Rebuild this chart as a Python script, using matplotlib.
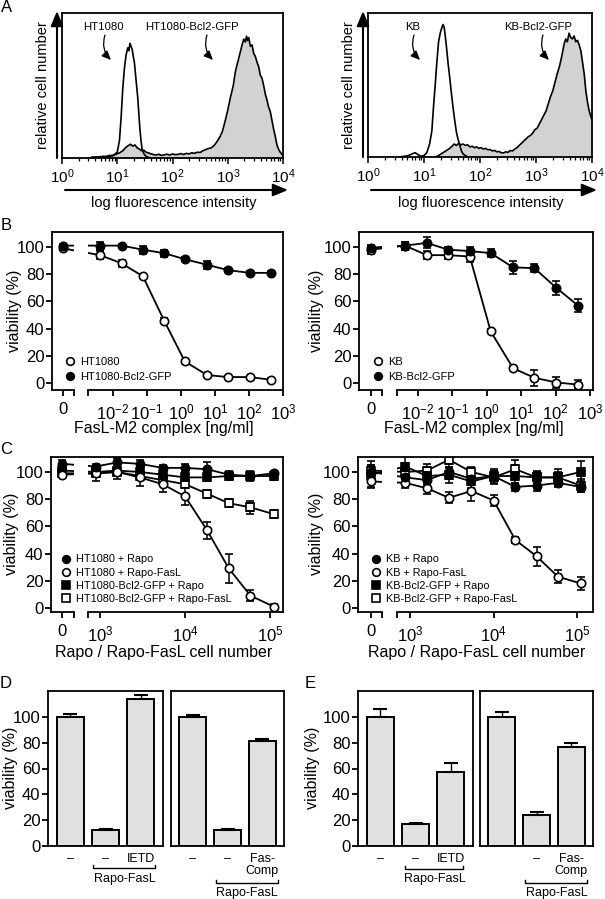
import numpy as np
import matplotlib
matplotlib.use("Agg")
import matplotlib.pyplot as plt
import matplotlib.transforms as mtransforms
from matplotlib.lines import Line2D
from matplotlib.path import Path
from matplotlib.patches import PathPatch, FancyArrowPatch
from matplotlib.ticker import NullLocator, LogLocator

# ---------------- data ----------------
# A: flow histograms, log10 fluorescence vs relative cell number (% of box height)
ht_log = [0.50, 0.56, 0.62, 0.68, 0.74, 0.80, 0.85, 0.90, 0.95, 1.00, 1.04, 1.07, 1.10,
          1.13, 1.16, 1.19, 1.21, 1.23, 1.25, 1.27, 1.29, 1.31, 1.33, 1.35, 1.37, 1.39,
          1.41, 1.43, 1.45, 1.48, 1.52, 1.56, 1.60]
ht_cnt = [0, 0.8, 0.3, 1.0, 0.5, 1.2, 0.8, 1.6, 2.5, 4, 12, 28, 48,
          62, 71, 76, 74, 79, 77, 75, 70, 66, 58, 50, 42, 31,
          20, 12, 6, 3, 1.2, 0.5, 0]
htbcl_log = [0.55, 0.62, 0.68, 0.74, 0.80, 0.86, 0.92, 0.98, 1.04, 1.10, 1.16, 1.20, 1.24,
             1.28, 1.32, 1.36, 1.40, 1.44, 1.48, 1.52, 1.56, 1.60, 1.65, 1.70, 1.75, 1.80,
             1.85, 1.90, 1.95, 2.00, 2.05, 2.10, 2.15, 2.20, 2.25, 2.30, 2.35, 2.40, 2.45,
             2.50, 2.55, 2.60, 2.65, 2.70, 2.75, 2.80, 2.85, 2.90, 2.95, 3.00, 3.05, 3.10,
             3.14, 3.18, 3.22, 3.26, 3.29, 3.32, 3.34, 3.36, 3.38, 3.41, 3.44, 3.47, 3.50,
             3.53, 3.56, 3.59, 3.62, 3.65, 3.68, 3.71, 3.74, 3.77, 3.80, 3.83, 3.86, 3.89,
             3.92, 3.95, 3.98, 4.00]
htbcl_cnt = [0, 0.8, 0.4, 1.2, 0.8, 1.8, 1.5, 2.6, 3.5, 5.0, 7.5, 8.5, 9.5,
             8.2, 9.0, 7.0, 6.2, 5.0, 5.4, 4.0, 3.6, 3.0, 2.4, 2.0, 2.6, 1.8,
             2.2, 2.6, 2.0, 2.8, 2.3, 2.5, 3.0, 2.4, 3.2, 2.8, 3.6, 3.2, 4.0,
             3.8, 5.0, 5.8, 6.5, 7, 8.5, 11, 14, 18, 25, 33, 42, 50,
             60, 66, 72, 78, 82, 80, 84, 81, 83, 77, 78, 72, 70,
             66, 63, 57, 55, 50, 44, 40, 35, 32, 26, 20, 15, 9,
             6, 4, 2.5, 2.0]
kb_log = [0.55, 0.65, 0.72, 0.78, 0.84, 0.90, 0.95, 1.00, 1.05, 1.10, 1.14, 1.17, 1.20,
          1.23, 1.26, 1.29, 1.32, 1.34, 1.36, 1.38, 1.40, 1.43, 1.46, 1.49, 1.52, 1.55,
          1.58, 1.61, 1.64, 1.67, 1.70, 1.74, 1.78]
kb_cnt = [0, 0.5, 1.0, 2.0, 3.0, 1.5, 0.5, 1.0, 3, 9, 18, 35, 50,
          66, 80, 86, 90, 92, 90, 84, 77, 65, 55, 44, 34, 25,
          17, 12, 8, 4, 2, 1, 0]
kbbcl_log = [1.20, 1.26, 1.32, 1.38, 1.42, 1.46, 1.50, 1.54, 1.58, 1.62, 1.66, 1.70, 1.74,
             1.78, 1.82, 1.86, 1.90, 1.94, 1.98, 2.02, 2.06, 2.10, 2.14, 2.18, 2.22, 2.26,
             2.30, 2.34, 2.38, 2.42, 2.46, 2.50, 2.54, 2.58, 2.62, 2.66, 2.70, 2.74, 2.78,
             2.82, 2.86, 2.90, 2.94, 2.98, 3.02, 3.06, 3.10, 3.14, 3.18, 3.22, 3.26, 3.30,
             3.34, 3.38, 3.42, 3.46, 3.50, 3.53, 3.56, 3.59, 3.62, 3.65, 3.68, 3.71, 3.74,
             3.77, 3.80, 3.83, 3.86, 3.89, 3.92, 3.95, 3.98, 4.00]
kbbcl_cnt = [0, 1, 2.5, 4, 5, 6, 7.5, 9, 8, 9.5, 8.5, 9, 8,
             8.5, 7, 7.5, 6.5, 7, 6, 6.5, 5.5, 6, 5, 5.2, 4.2, 4.6,
             3.6, 3.8, 3.0, 2.8, 3.6, 3.2, 4.5, 4.2, 5.5, 6.5, 8, 9.5, 11,
             12.5, 14, 15, 16.5, 19, 20, 23, 26, 29, 32, 37, 42, 46,
             52, 58, 63, 70, 78, 82, 80, 86, 83, 82, 84, 80, 81,
             78, 74, 66, 58, 46, 38, 32, 28, 26]
fluor_decades = [0, 1, 2, 3, 4]

# B: FasL-M2 complex titration (ng/ml), viability %
fasl_ng = [0, 0.0042, 0.018, 0.076, 0.32, 1.3, 5.8, 24, 105, 447]
ht_fasl = [99, 94, 88, 78.5, 46, 16, 6, 4.5, 4.5, 2.5]
ht_fasl_err = [1.5, 3, 2.5, 1.5, 1.5, 1, 1, 1, 1, 1]
htbcl_fasl = [101, 101, 101, 98, 95.5, 91, 87, 83, 81, 81]
htbcl_fasl_err = [1, 3, 1.5, 3, 2.5, 1.5, 3, 1.5, 1.5, 1.5]
kb_fasl = [98, 101, 94, 94, 93, 38, 11, 4, 0.5, -1]
kb_fasl_err = [3, 3, 3, 3, 4, 1.5, 1.5, 6, 4, 3]
kbbcl_fasl = [99.5, 101, 103, 98, 97, 95.5, 85, 84.5, 70, 57]
kbbcl_fasl_err = [2, 3, 4, 2, 3, 3, 5, 3, 5, 5]

# C: Rapo / Rapo-FasL cell number, viability %
rapo_cells = [0, 880, 1590, 2920, 5430, 10000, 18200, 32700, 58900, 110000]
ht_rapo = [106, 104, 107, 106, 103, 103, 102, 98, 97, 99]
ht_rapo_err = [3, 2, 3, 3, 2, 3, 5, 3, 2, 2]
ht_rapofasl = [98, 99, 100, 96, 91, 82, 57, 29, 9, 1]
ht_rapofasl_err = [2, 6, 5, 6, 6, 6, 6, 11, 4, 2]
htbcl_rapo = [101, 100, 101, 100, 98, 96, 96, 97, 97, 97]
htbcl_rapo_err = [3, 3, 3, 3, 3, 4, 2, 3, 4, 2]
htbcl_rapofasl = [99, 99, 100, 97, 94, 91, 84, 77, 74, 69]
htbcl_rapofasl_err = [2, 3, 3, 3, 3, 3, 2, 2, 5, 2]
kb_rapo = [100, 96, 94, 100, 95, 97, 89, 90, 92, 89]
kb_rapo_err = [5, 4, 4, 4, 4, 4, 3, 4, 3, 4]
kb_rapofasl = [93, 92, 88, 81, 86, 79, 50, 38, 23, 18]
kb_rapofasl_err = [4, 4, 4, 4, 7, 4, 2, 7, 5, 5]
kbbcl_rapo = [98, 104, 97, 98, 93, 97, 97, 96, 96, 100]
kbbcl_rapo_err = [10, 8, 6, 6, 5, 5, 5, 5, 6, 8]
kbbcl_rapofasl = [101, 100, 101, 109, 100, 96, 102, 96, 96, 90]
kbbcl_rapofasl_err = [4, 5, 5, 6, 4, 5, 7, 4, 4, 5]

# D / E: bar charts, viability %
d1_labels = ['–', '–', 'IETD']
d1_vals = [100, 12.5, 114]
d1_errs = [2, 1, 3]
d2_labels = ['–', '–', 'Fas-\nComp']
d2_vals = [99.5, 12.5, 81]
d2_errs = [2, 1, 1.5]
e1_labels = ['–', '–', 'IETD']
e1_vals = [100, 17, 57]
e1_errs = [6, 1, 7]
e2_labels = ['', '–', 'Fas-\nComp']
e2_vals = [100, 24, 77]
e2_errs = [4, 2.5, 3]

# ---------------- figure ----------------
plt.rcParams['font.family'] = ['Liberation Sans', 'DejaVu Sans']
plt.rcParams['mathtext.default'] = 'regular'
plt.rcParams['axes.linewidth'] = 1.3

W, H = 605, 899
fig = plt.figure(figsize=(W / 100, H / 100), dpi=100)


def box(x0, y0, x1, y1):
    return fig.add_axes([x0 / W, 1 - y1 / H, (x1 - x0) / W, (y1 - y0) / H])


def ftext(x, y, s, **kw):
    kw.setdefault('ha', 'center')
    kw.setdefault('va', 'center')
    fig.text(x / W, 1 - y / H, s, **kw)


def farrow(x0, y0, x1, y1, rad=0.0, lw=1.5, hl=0.6, hw=0.25, ms=15):
    fig.add_artist(FancyArrowPatch((x0 / W, 1 - y0 / H), (x1 / W, 1 - y1 / H),
                                   transform=fig.transFigure,
                                   connectionstyle='arc3,rad=%s' % rad,
                                   arrowstyle='-|>,head_length=%s,head_width=%s' % (hl, hw),
                                   mutation_scale=ms, lw=lw, color='k',
                                   shrinkA=0, shrinkB=0))


def hline(xs, ys, lw=1.0):
    fig.add_artist(Line2D([x / W for x in xs], [1 - y / H for y in ys],
                          transform=fig.transFigure, color='k', lw=lw))


# ---- A: histograms ----
def hist_panel(x0, y0, x1, y1, open_log, open_cnt, fill_log, fill_cnt):
    ax = box(x0, y0, x1, y1)
    fx = 10 ** np.array(fill_log)
    ox = 10 ** np.array(open_log)
    ax.fill_between(fx, 0, fill_cnt, color='#d2d2d2', lw=0)
    ax.plot(fx, fill_cnt, color='k', lw=1.2)
    ax.plot(ox, open_cnt, color='k', lw=1.2)
    ax.set_xscale('log')
    ax.set_xlim(1, 1e4)
    ax.set_ylim(0, 100)
    ax.set_yticks([])
    ax.set_xticks([10.0 ** d for d in fluor_decades],
                  [r'$\mathdefault{10^{%d}}$' % d for d in fluor_decades])
    ax.xaxis.set_minor_locator(LogLocator(subs=np.arange(2, 10), numticks=20))
    ax.tick_params(axis='x', which='major', direction='out', length=4, width=1.1,
                   labelsize=11, pad=3)
    ax.tick_params(axis='x', which='minor', direction='out', length=2.2, width=0.9,
                   labelbottom=False)
    # axis arrows
    farrow(x0 - 5, y1, x0 - 5, y0 - 2)
    farrow(x0 + 3, 190, x1 + 5, 190)
    ftext(x0 - 19, (y0 + y1) / 2, 'relative cell number', rotation=90, fontsize=10.5)
    ftext((x0 + x1) / 2 + 1, 203, 'log fluorescence intensity', fontsize=10.5)
    return ax


hist_panel(62, 13, 283, 158, ht_log, ht_cnt, htbcl_log, htbcl_cnt)
hist_panel(368, 13, 592, 157, kb_log, kb_cnt, kbbcl_log, kbbcl_cnt)

ftext(103, 27, 'HT1080', fontsize=8.2)
farrow(105, 35, 111, 60, rad=0.3, lw=0.9, hl=0.5, hw=0.22, ms=11)
ftext(192, 27, 'HT1080-Bcl2-GFP', fontsize=8.2)
farrow(207, 35, 213, 60, rad=0.3, lw=0.9, hl=0.5, hw=0.22, ms=11)
ftext(413, 27, 'KB', fontsize=8.2)
farrow(414, 35, 420, 60, rad=0.3, lw=0.9, hl=0.5, hw=0.22, ms=11)
ftext(538, 27, 'KB-Bcl2-GFP', fontsize=8.2)
farrow(543, 35, 549, 60, rad=0.3, lw=0.9, hl=0.5, hw=0.22, ms=11)


# ---- B / C: broken log axes ----
def broken_panel(x0, y0, x1, y1, loglim, zero_log, brk_log, dec_ticks, ylim):
    ax = box(x0, y0, x1, y1)
    ax.set_xscale('log')
    lo, hi = 10 ** loglim[0], 10 ** loglim[1]
    b0, b1 = 10 ** brk_log[0], 10 ** brk_log[1]
    zero_x = 10 ** zero_log
    ax.set_xlim(lo, hi)
    ax.set_ylim(*ylim)
    ax.spines['bottom'].set_visible(False)
    tr = mtransforms.blended_transform_factory(ax.transData, ax.transAxes)
    ax.plot([lo, b0], [0, 0], color='k', lw=1.3, transform=tr, clip_on=False,
            solid_capstyle='projecting')
    ax.plot([b1, hi], [0, 0], color='k', lw=1.3, transform=tr, clip_on=False,
            solid_capstyle='projecting')
    ticks = [10.0 ** d for d in dec_ticks]
    labels = [r'$\mathdefault{10^{%d}}$' % d for d in dec_ticks]
    ax.set_xticks([zero_x, b0, b1] + ticks, ['0', '', ''] + labels)
    ax.xaxis.set_minor_locator(NullLocator())
    ax.tick_params(axis='x', direction='out', length=4, width=1.3, labelsize=12, pad=5)
    ax.set_yticks(range(0, 101, 20))
    ax.tick_params(axis='y', direction='out', length=4, width=1.3, labelsize=12, pad=1.5)
    c0, c1 = lo / 10, hi * 10
    verts = [(c0, -1), (b0, -1), (b0, 2), (c0, 2), (c0, -1),
             (b1, -1), (c1, -1), (c1, 2), (b1, 2), (b1, -1)]
    codes = [Path.MOVETO, Path.LINETO, Path.LINETO, Path.LINETO, Path.CLOSEPOLY] * 2
    clip = PathPatch(Path(verts, codes), transform=tr)
    ax.zero_x = zero_x
    ax.gap_clip = clip
    return ax


def series(ax, x, y, err, marker, filled, ms=6):
    xp = [ax.zero_x if v == 0 else v for v in x]
    line, caps, bars = ax.errorbar(xp, y, yerr=err, fmt='-', marker=marker, ms=ms,
                                   mfc='k' if filled else 'white', mec='k', mew=1.2,
                                   color='k', lw=1.3, ecolor='k', elinewidth=1.1,
                                   capsize=3, capthick=1.1)
    line.set_clip_path(ax.gap_clip)


def legend(ax, entries, anchor, fs, spacing):
    handles = [Line2D([], [], ls='none', marker=m, ms=5.5,
                      mfc='k' if f else 'white', mec='k', mew=1.2, label=t)
               for t, m, f in entries]
    ax.legend(handles=handles, loc='lower left', bbox_to_anchor=anchor, frameon=False,
              fontsize=fs, handletextpad=0.4, labelspacing=spacing, borderaxespad=0,
              borderpad=0, handlelength=1.0)


# B left
axb1 = broken_panel(52, 232, 283, 390, (-3.79, 3.0), -3.47, (-3.15, -2.74),
                    [-2, -1, 0, 1, 2, 3], (-5, 111))
series(axb1, fasl_ng, ht_fasl, ht_fasl_err, 'o', False)
series(axb1, fasl_ng, htbcl_fasl, htbcl_fasl_err, 'o', True)
legend(axb1, [('HT1080', 'o', False), ('HT1080-Bcl2-GFP', 'o', True)],
       (0.054, 0.05), 8, 0.45)

# B right
axb2 = broken_panel(359, 232, 593, 390, (-3.715, 3.087), -3.37, (-3.05, -2.61),
                    [-2, -1, 0, 1, 2, 3], (-5, 111))
series(axb2, fasl_ng, kb_fasl, kb_fasl_err, 'o', False)
series(axb2, fasl_ng, kbbcl_fasl, kbbcl_fasl_err, 'o', True)
legend(axb2, [('KB', 'o', False), ('KB-Bcl2-GFP', 'o', True)],
       (0.058, 0.05), 8, 0.45)

# C left
axc1 = broken_panel(51, 457, 283, 612, (2.42, 5.153), 2.553, (2.694, 2.859),
                    [3, 4, 5], (-3, 111))
series(axc1, rapo_cells, htbcl_rapofasl, htbcl_rapofasl_err, 's', False, 5.5)
series(axc1, rapo_cells, htbcl_rapo, htbcl_rapo_err, 's', True, 5.5)
series(axc1, rapo_cells, ht_rapofasl, ht_rapofasl_err, 'o', False)
series(axc1, rapo_cells, ht_rapo, ht_rapo_err, 'o', True)
legend(axc1, [('HT1080 + Rapo', 'o', True), ('HT1080 + Rapo-FasL', 'o', False),
              ('HT1080-Bcl2-GFP + Rapo', 's', True),
              ('HT1080-Bcl2-GFP + Rapo-FasL', 's', False)],
       (0.041, 0.05), 7.8, 0.3)

# C right
axc2 = broken_panel(358, 457, 593, 612, (2.377, 5.19), 2.533, (2.665, 2.844),
                    [3, 4, 5], (-3, 111))
series(axc2, rapo_cells, kbbcl_rapofasl, kbbcl_rapofasl_err, 's', False, 5.5)
series(axc2, rapo_cells, kbbcl_rapo, kbbcl_rapo_err, 's', True, 5.5)
series(axc2, rapo_cells, kb_rapofasl, kb_rapofasl_err, 'o', False)
series(axc2, rapo_cells, kb_rapo, kb_rapo_err, 'o', True)
legend(axc2, [('KB + Rapo', 'o', True), ('KB + Rapo-FasL', 'o', False),
              ('KB-Bcl2-GFP + Rapo', 's', True),
              ('KB-Bcl2-GFP + Rapo-FasL', 's', False)],
       (0.053, 0.05), 7.8, 0.3)

ftext(15, 311, 'viability (%)', rotation=90, fontsize=11.5)
ftext(316, 311, 'viability (%)', rotation=90, fontsize=11.5)
ftext(12, 534, 'viability (%)', rotation=90, fontsize=11.5)
ftext(316, 534, 'viability (%)', rotation=90, fontsize=11.5)
ftext(164, 429, 'FasL-M2 complex [ng/ml]', fontsize=11.5)
ftext(474, 429, 'FasL-M2 complex [ng/ml]', fontsize=11.5)
ftext(164, 653, 'Rapo / Rapo-FasL cell number', fontsize=11.5)
ftext(477, 653, 'Rapo / Rapo-FasL cell number', fontsize=11.5)


# ---- D / E: bars ----
def bar_box(x0, x1, labels, vals, errs, yaxis):
    ax = box(x0, 691, x1, 846)
    pos = np.arange(len(vals))
    ax.bar(pos, vals, width=0.77, color='#e0e0e0', edgecolor='k', lw=1.4)
    ax.errorbar(pos, vals, yerr=[np.zeros(len(vals)), errs], fmt='none', ecolor='k',
                elinewidth=1.0, capsize=5, capthick=1.5)
    ax.set_xlim(-0.63, 2.63)
    ax.set_ylim(0, 120)
    ax.set_xticks(pos, labels, linespacing=1.0)
    ax.tick_params(axis='x', length=0, labelsize=9, pad=5)
    if yaxis:
        ax.set_yticks(range(0, 101, 20))
        ax.tick_params(axis='y', direction='out', length=4, width=1.3, labelsize=12, pad=1.5)
    else:
        ax.set_yticks([])
    return ax


bar_box(48, 163, d1_labels, d1_vals, d1_errs, True)
bar_box(171, 284, d2_labels, d2_vals, d2_errs, False)
bar_box(358, 473, e1_labels, e1_vals, e1_errs, True)
bar_box(480, 593, e2_labels, e2_vals, e2_errs, False)

ftext(11, 768, 'viability (%)', rotation=90, fontsize=11.5)
ftext(313, 768, 'viability (%)', rotation=90, fontsize=11.5)

# brackets under the Rapo-FasL groups
for xa, xb, yb, xt, yt in [(93, 155, 868, 125, 879), (216, 278, 883, 247, 893),
                           (405, 463, 869, 435, 879), (525, 587, 883, 557, 893)]:
    hline([xa, xa, xb, xb], [yb - 3, yb, yb, yb - 3], lw=1.0)
    ftext(xt, yt, 'Rapo-FasL', fontsize=9)

# panel letters
for letter, x, y in [('A', 7, 8), ('B', 6, 225), ('C', 6, 450), ('D', 6, 683), ('E', 310, 683)]:
    ftext(x, y, letter, fontsize=12)

fig.savefig('out.png', dpi=100, facecolor='white')
